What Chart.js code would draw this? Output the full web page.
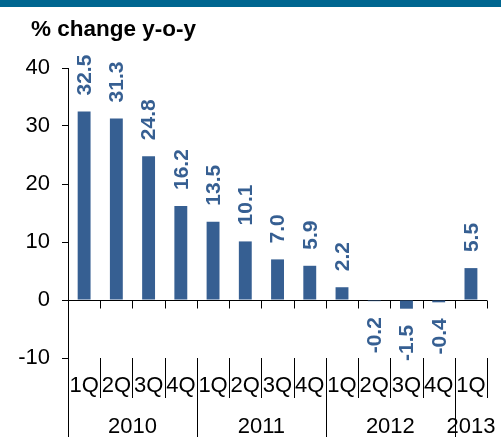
<!DOCTYPE html>
<html><head><meta charset="utf-8">
<script src="https://cdn.jsdelivr.net/npm/chart.js@4"></script>
<style>
html,body{margin:0;padding:0;background:#fff;}
#wrap{position:relative;width:501px;height:437px;overflow:hidden;}
#banner{position:absolute;left:0;top:0;width:501px;height:7px;background:#006690;}
#title{position:absolute;left:31px;top:18px;font:bold 22.5px "Liberation Sans",Arial,sans-serif;line-height:1;color:#000;white-space:nowrap;}
canvas{position:absolute;left:0;top:0;}
</style></head><body>
<div id="wrap"><canvas id="c" width="501" height="437"></canvas><div id="banner"></div><div id="title">% change y-o-y</div></div>
<script>
const quarters = ["1Q","2Q","3Q","4Q","1Q","2Q","3Q","4Q","1Q","2Q","3Q","4Q","1Q"];
const years = ["2010","2011","2012","2013"];
const yearSpans = [4,4,4,1];
const values = [32.5,31.3,24.8,16.2,13.5,10.1,7.0,5.9,2.2,-0.2,-1.5,-0.4,5.5];
const yMin = -10, yMax = 40, yStep = 10;

const FONT = '"Liberation Sans", Arial, sans-serif';
const BAR = '#365F92';

const extras = {
  id: 'extras',
  afterDatasetsDraw(chart) {
    const ctx = chart.ctx;
    const meta = chart.getDatasetMeta(0);
    ctx.save();
    ctx.fillStyle = BAR;
    ctx.font = 'bold 21px ' + FONT;
    ctx.textBaseline = 'middle';
    meta.data.forEach((el, i) => {
      const v = values[i];
      const txt = v.toFixed(1);
      ctx.save();
      if (v >= 0) {
        ctx.translate(el.x, el.y - 16);
        ctx.rotate(-Math.PI / 2);
        ctx.textAlign = 'left';
      } else {
        ctx.translate(el.x, el.y + 16);
        ctx.rotate(-Math.PI / 2);
        ctx.textAlign = 'right';
      }
      ctx.fillText(txt, 0, 1);
      ctx.restore();
    });
    ctx.restore();
  },
  afterDraw(chart) {
    const ctx = chart.ctx;
    const xs = chart.scales.x, ys = chart.scales.y;
    const y0 = Math.round(ys.getPixelForValue(0)) + 0.5;
    const bottom = chart.chartArea.bottom;
    const H = chart.height;
    ctx.save();
    ctx.strokeStyle = '#000';
    ctx.lineWidth = 1;
    ctx.beginPath();
    for (let i = 0; i <= quarters.length; i++) {
      const x = Math.round(xs.getPixelForValue(i - 0.5)) + 0.5;
      ctx.moveTo(x, y0); ctx.lineTo(x, y0 + 8);
    }
    for (let i = 1; i <= quarters.length; i++) {
      const x = Math.round(xs.getPixelForValue(i - 0.5)) + 0.5;
      ctx.moveTo(x, bottom); ctx.lineTo(x, bottom + 40);
    }
    let idx = 0;
    for (let k = 0; k < years.length; k++) {
      const x = Math.round(xs.getPixelForValue(idx - 0.5)) + 0.5;
      ctx.moveTo(x, bottom); ctx.lineTo(x, H);
      idx += yearSpans[k];
    }
    ctx.stroke();
    ctx.fillStyle = '#000';
    ctx.font = '22px ' + FONT;
    ctx.textAlign = 'center';
    ctx.textBaseline = 'middle';
    idx = 0;
    for (let k = 0; k < years.length; k++) {
      const xa = xs.getPixelForValue(idx - 0.5);
      const xb = xs.getPixelForValue(idx + yearSpans[k] - 0.5);
      ctx.fillText(years[k], (xa + xb) / 2, 427);
      idx += yearSpans[k];
    }
    ctx.restore();
  }
};

new Chart(document.getElementById('c'), {
  type: 'bar',
  data: {
    labels: quarters,
    datasets: [{
      data: values,
      backgroundColor: BAR,
      borderWidth: 0,
      barPercentage: 0.4,
      categoryPercentage: 1.0
    }]
  },
  options: {
    responsive: false,
    animation: false,
    devicePixelRatio: 1,
    layout: { padding: { top: 68, right: 10, bottom: 0, left: 0 } },
    plugins: { legend: { display: false }, tooltip: { enabled: false }, title: { display: false } },
    scales: {
      x: {
        grid: { display: false, drawTicks: false },
        border: { display: false },
        ticks: { color: '#000', font: { family: FONT, size: 22 }, padding: 15, maxRotation: 0, autoSkip: false },
        afterFit(s) { s.height = 79; }
      },
      y: {
        min: yMin, max: yMax,
        grid: {
          drawOnChartArea: true,
          color: (c) => (c.tick && c.tick.value === 0) ? '#000' : 'rgba(0,0,0,0)',
          tickColor: '#000', tickLength: 6, lineWidth: 1
        },
        border: { display: true, color: '#000', width: 1 },
        ticks: { stepSize: yStep, color: '#000', font: { family: FONT, size: 22 }, padding: 12 },
        afterFit(s) { s.width = 68; }
      }
    }
  },
  plugins: [extras]
});
</script>
</body></html>
